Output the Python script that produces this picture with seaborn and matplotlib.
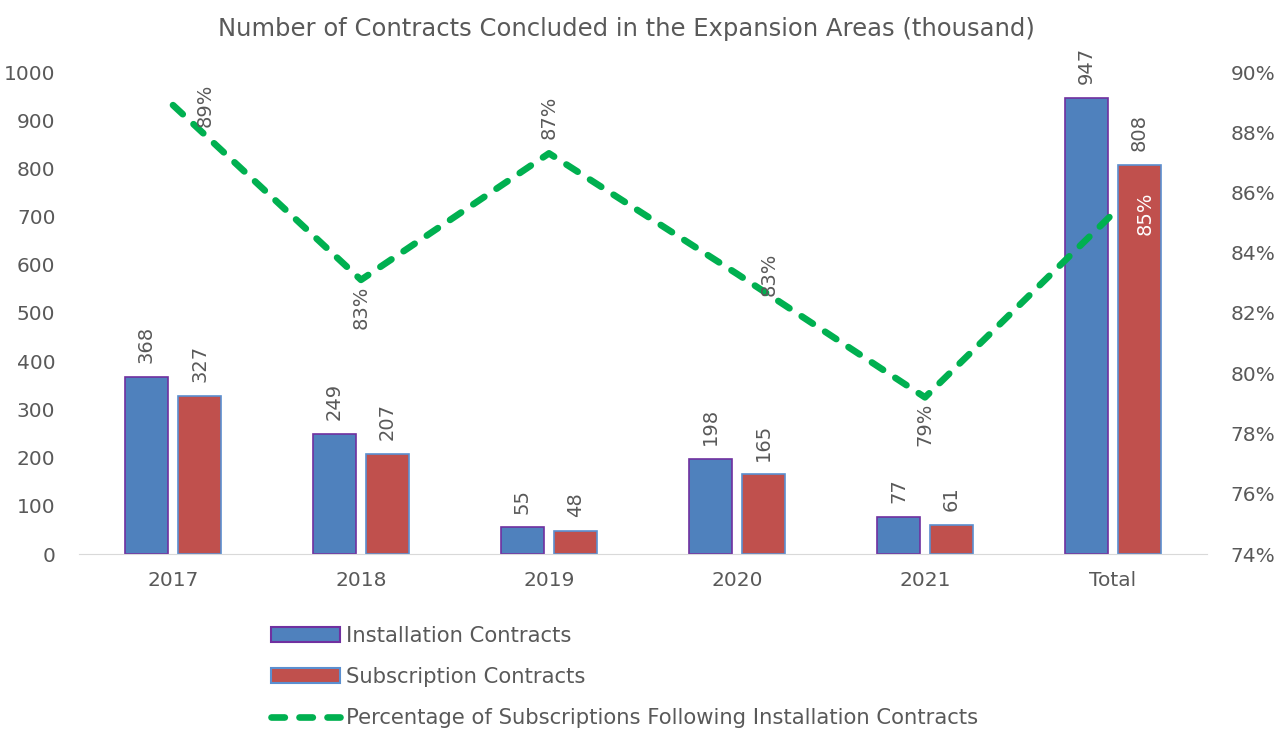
import pandas as pd
import numpy as np
import matplotlib.pyplot as plt
import seaborn as sns
from matplotlib.patches import Patch
from matplotlib.lines import Line2D

years = ['2017', '2018', '2019', '2020', '2021', 'Total']
installation = [368, 249, 55, 198, 77, 947]
subscription = [327, 207, 48, 165, 61, 808]
pct_follow = [88.9, 83.1, 87.3, 83.3, 79.2, 85.3]
pct_labels = ['89%', '83%', '87%', '83%', '79%', '85%']
pct_pos = ['right', 'below', 'above', 'right', 'below', 'right']

series_names = ['Installation Contracts', 'Subscription Contracts']
line_name = 'Percentage of Subscriptions Following Installation Contracts'

sns.set_style('white')
plt.rcParams['font.family'] = ['DejaVu Sans']
txt = '#595959'
blue, red, green = '#4F81BD', '#C0504D', '#00B050'
dash_style = (0, (2.0, 2.2))

df = pd.DataFrame({
    'Year': years * 2,
    'Value': installation + subscription,
    'Series': [series_names[0]] * len(years) + [series_names[1]] * len(years),
})

fig = plt.figure(figsize=(12.86, 7.29), dpi=100)
ax = fig.add_axes([79 / 1286, 175 / 729, 1128 / 1286, 482 / 729])

sns.barplot(data=df, x='Year', y='Value', hue='Series', order=years,
            hue_order=series_names, palette=[blue, red], width=0.564, gap=0.19,
            saturation=1, ax=ax, legend=False)
edge_cols = ['#7030A0', '#5B8FD0']
for cont, ec in zip(ax.containers, edge_cols):
    for p in cont:
        p.set_edgecolor(ec)
        p.set_linewidth(1.2)
    ax.bar_label(cont, rotation=90, padding=10, fontsize=14, color=txt)

ax.set_ylim(0, 1000)
ax.set_xlim(-0.5, 5.5)
ax.set_yticks(np.arange(0, 1001, 100))
ax.set(xlabel='', ylabel='')
ax.tick_params(axis='both', labelsize=14.5, colors=txt, length=0)
ax.tick_params(axis='x', pad=12)
ax.tick_params(axis='y', pad=17)
for s in ['top', 'left', 'right']:
    ax.spines[s].set_visible(False)
ax.spines['bottom'].set_color('#D9D9D9')

ax2 = ax.twinx()
xs = np.arange(len(years))
ax2.plot(xs, pct_follow, color=green, lw=4.8, ls=dash_style,
         dash_capstyle='round', solid_capstyle='round')
ax2.set_ylim(74, 90)
ax2.set_yticks(np.arange(74, 91, 2))
ax2.set_yticklabels([f'{v}%' for v in range(74, 91, 2)])
ax2.tick_params(axis='y', labelsize=14.5, colors=txt, length=0, pad=17)
for s in ax2.spines.values():
    s.set_visible(False)

for x, v, lab, pos in zip(xs, pct_follow, pct_labels, pct_pos):
    col = 'white' if years[x] == 'Total' else txt
    if pos == 'right':
        ax2.annotate(lab, (x, v), xytext=(23, 0), textcoords='offset points',
                     rotation=90, ha='center', va='center', fontsize=14, color=col)
    elif pos == 'below':
        ax2.annotate(lab, (x, v), xytext=(0, -4), textcoords='offset points',
                     rotation=90, ha='center', va='top', fontsize=14, color=col)
    else:
        ax2.annotate(lab, (x, v), xytext=(0, 10), textcoords='offset points',
                     rotation=90, ha='center', va='bottom', fontsize=14, color=col)

fig.suptitle('Number of Contracts Concluded in the Expansion Areas (thousand)',
             fontsize=17.5, color=txt, x=0.487, y=0.977)

handles = [Patch(facecolor=blue, edgecolor=edge_cols[0], lw=1.5),
           Patch(facecolor=red, edgecolor=edge_cols[1], lw=1.5),
           Line2D([0], [0], color=green, lw=4.8, ls=dash_style,
                  dash_capstyle='round')]
leg = fig.legend(handles, series_names + [line_name], loc='upper left',
                 bbox_to_anchor=(271 / 1286, 1 - 626 / 729), frameon=False,
                 fontsize=15.2, labelcolor=txt, handlelength=3.25, handletextpad=0.3,
                 labelspacing=1.0, borderaxespad=0, borderpad=0)

fig.savefig('out.png', dpi=100)
